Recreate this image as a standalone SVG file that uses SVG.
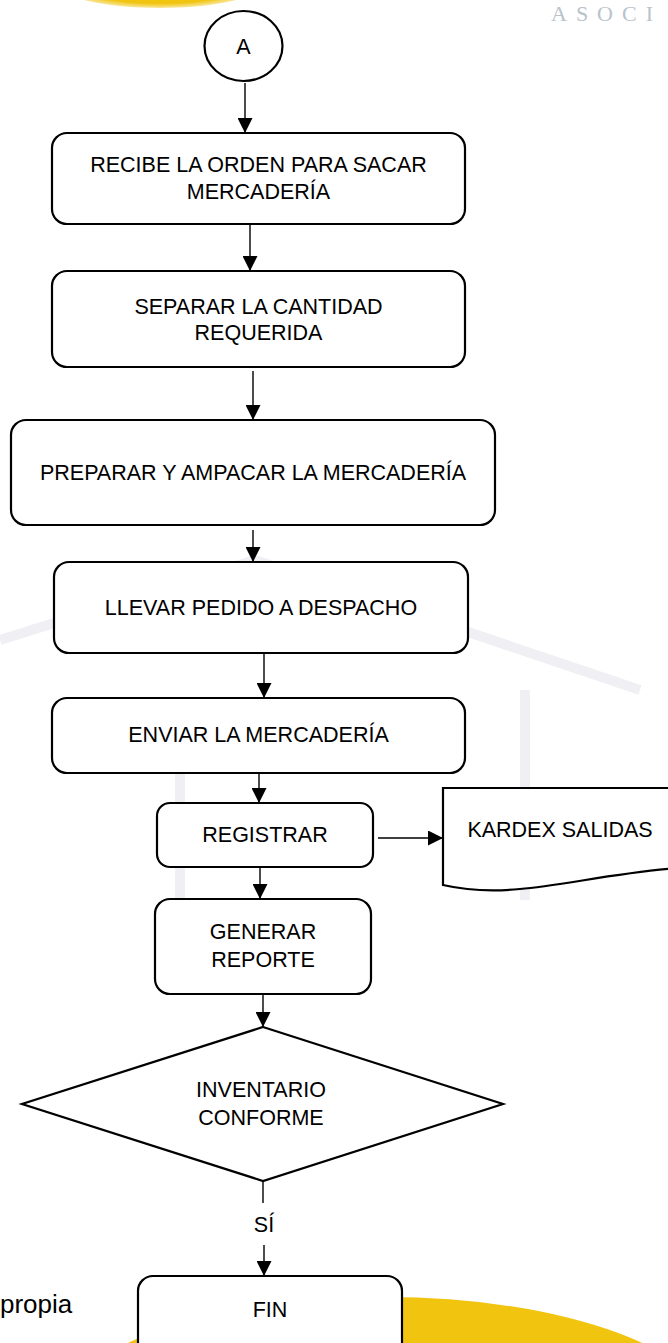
<svg xmlns="http://www.w3.org/2000/svg" width="668" height="1343" viewBox="0 0 668 1343">
<defs>
<style>
.box{fill:#fff;stroke:#000;stroke-width:2.2}
.t{font-family:"Liberation Sans",Arial,sans-serif;font-size:21.5px;fill:#000;text-anchor:middle}
.c{stroke:#000;stroke-width:1.4;fill:none}
.wm{fill:none;stroke:#f0f0f4;stroke-width:10}
</style>
<marker id="ah" viewBox="0 0 15 15" refX="15" refY="7.5" markerWidth="15" markerHeight="15" markerUnits="userSpaceOnUse" orient="auto">
<path d="M0,0 L15,7.5 L0,15 z" fill="#000"/>
</marker>
<radialGradient id="yg" cx="0.5" cy="0.5" r="0.5">
<stop offset="0.8" stop-color="#f1c40f"/>
<stop offset="1" stop-color="#f9e79a"/>
</radialGradient>
</defs>
<rect width="668" height="1343" fill="#fff"/>
<g id="background">
<ellipse cx="160" cy="-15" rx="100" ry="23" fill="url(#yg)"/>
<text x="551" y="21" font-family="Liberation Serif,serif" font-size="22" letter-spacing="9" fill="#b9c3cc">ASOCI</text>
<path class="wm" d="M0,640 L255,560 L640,690"/>
<path class="wm" d="M180,700 L180,900 M525,690 L525,900"/>
<ellipse cx="385" cy="1420" rx="330" ry="123" fill="#f1c40f"/>
<text x="0" y="1313" font-family="Liberation Sans,Arial,sans-serif" font-size="26" fill="#000">propia</text>
</g>
<g id="connectors">
<line class="c" x1="245" y1="83" x2="245" y2="133" marker-end="url(#ah)"/>
<line class="c" x1="250" y1="224" x2="250" y2="271" marker-end="url(#ah)"/>
<line class="c" x1="253" y1="371" x2="253" y2="420" marker-end="url(#ah)"/>
<line class="c" x1="253" y1="530" x2="253" y2="562" marker-end="url(#ah)"/>
<line class="c" x1="264" y1="653" x2="264" y2="698" marker-end="url(#ah)"/>
<line class="c" x1="259" y1="773" x2="259" y2="803" marker-end="url(#ah)"/>
<line class="c" x1="378" y1="838" x2="443" y2="838" marker-end="url(#ah)"/>
<line class="c" x1="260" y1="867" x2="260" y2="899" marker-end="url(#ah)"/>
<line class="c" x1="263" y1="994" x2="263" y2="1027" marker-end="url(#ah)"/>
<line class="c" x1="263" y1="1181" x2="263" y2="1203"/>
<text class="t" x="264" y="1232">SÍ</text>
<line class="c" x1="264" y1="1245" x2="264" y2="1276" marker-end="url(#ah)"/>
</g>
<g id="nodeA">
<ellipse class="box" cx="243.5" cy="46" rx="39" ry="35"/>
<text class="t" x="243.5" y="54">A</text>
</g>
<g id="recibe">
<rect class="box" x="52" y="133" width="413" height="91" rx="15"/>
<text class="t" x="258.5" y="172">RECIBE LA ORDEN PARA SACAR</text>
<text class="t" x="258.5" y="199">MERCADERÍA</text>
</g>
<g id="separar">
<rect class="box" x="52" y="271" width="413" height="96" rx="15"/>
<text class="t" x="258.5" y="314">SEPARAR LA CANTIDAD</text>
<text class="t" x="258.5" y="340">REQUERIDA</text>
</g>
<g id="preparar">
<rect class="box" x="11" y="420" width="484" height="105" rx="15"/>
<text class="t" x="253" y="480">PREPARAR Y AMPACAR LA MERCADERÍA</text>
</g>
<g id="llevar">
<rect class="box" x="54" y="562" width="414" height="91" rx="15"/>
<text class="t" x="261" y="615">LLEVAR PEDIDO A DESPACHO</text>
</g>
<g id="enviar">
<rect class="box" x="52" y="698" width="413" height="75" rx="15"/>
<text class="t" x="258.5" y="742">ENVIAR LA MERCADERÍA</text>
</g>
<g id="registrar">
<rect class="box" x="157" y="803" width="216" height="64" rx="13"/>
<text class="t" x="265" y="842">REGISTRAR</text>
</g>
<g id="kardex">
<path class="box" d="M443,788 L680,788 L680,868 C620,872 560,886 520,889 C490,892 465,890 443,885 Z"/>
<text class="t" x="560" y="837">KARDEX SALIDAS</text>
</g>
<g id="generar">
<rect class="box" x="155" y="899" width="216" height="95" rx="15"/>
<text class="t" x="263" y="939">GENERAR</text>
<text class="t" x="263" y="967">REPORTE</text>
</g>
<g id="inventario">
<polygon class="box" points="263,1027 503,1104 263,1181 22,1104"/>
<text class="t" x="261" y="1097">INVENTARIO</text>
<text class="t" x="261" y="1125">CONFORME</text>
</g>
<g id="fin">
<rect class="box" x="138" y="1276" width="264" height="90" rx="15"/>
<text class="t" x="270" y="1317">FIN</text>
</g>
</svg>
